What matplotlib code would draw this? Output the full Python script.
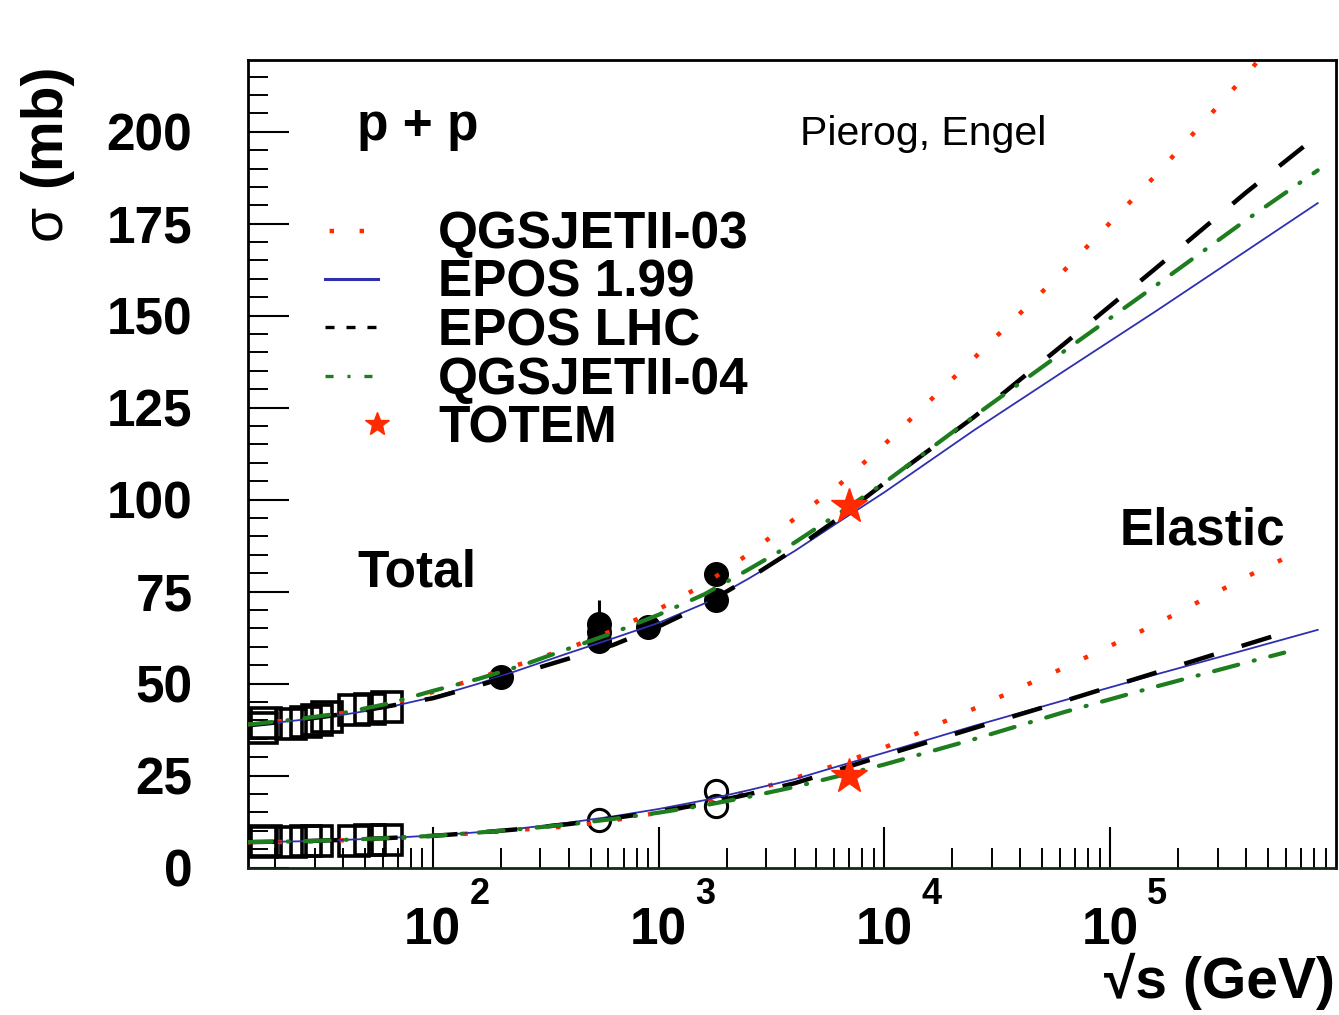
import numpy as np
import matplotlib
matplotlib.use("Agg")
import matplotlib.pyplot as plt
from matplotlib.lines import Line2D
from matplotlib.legend_handler import HandlerLine2D
from matplotlib.ticker import FixedLocator, FixedFormatter, LogLocator, NullFormatter, MultipleLocator

plt.rcParams['font.family'] = ['Liberation Sans', 'DejaVu Sans']
plt.rcParams['font.weight'] = 'bold'
plt.rcParams['lines.scale_dashes'] = False

# ---------------- model curves (sqrt(s) in GeV, sigma in mb) ----------------
sqrt_s_grid = [15, 25, 40, 63, 100, 160, 250, 400, 630, 1000, 1600, 2500, 4000,
               6300, 1.0e4, 2.5e4, 6.3e4, 1.6e5, 4.0e5, 8.3e5]
sqrt_s_grid_el = [15, 25, 40, 63, 100, 160, 250, 400, 630, 1000, 1600, 2500, 4000,
                  6300, 1.0e4, 2.5e4, 6.3e4, 1.6e5, 4.0e5, 5.9e5]

tot_qgsjet03 = [38.8, 40.3, 42.0, 44.3, 47.7, 51.5, 55.5, 59.6, 64.5, 70.2, 77.0, 85.2,
                94.8, 104.0, 115.0, 138.5, 162.5, 188.3, 215.5, 238.0]
tot_epos199 = [38.5, 40.0, 41.5, 43.5, 46.3, 50.0, 54.0, 58.3, 62.3, 66.5, 71.8, 78.5,
               86.0, 94.0, 102.0, 118.9, 135.1, 151.3, 167.6, 180.6]
tot_eposlhc = [38.6, 40.0, 41.7, 43.8, 46.0, 49.5, 53.0, 56.8, 60.5, 65.5, 71.5, 78.5,
               86.5, 95.0, 104.5, 122.5, 142.5, 163.0, 183.5, 199.0]
tot_qgsjet04 = [38.8, 40.3, 42.0, 44.5, 48.0, 51.3, 55.0, 59.5, 63.8, 68.7, 74.3, 81.0,
                88.3, 96.3, 104.6, 122.7, 140.5, 158.3, 176.0, 189.5]

el_qgsjet03 = [6.8, 7.0, 7.4, 7.9, 8.6, 9.4, 10.3, 11.2, 12.8, 14.9, 17.5, 20.6,
               24.3, 28.1, 32.6, 43.2, 54.4, 66.2, 79.0, 84.0]
el_epos199 = [6.9, 7.1, 7.5, 8.0, 8.7, 9.6, 10.7, 12.2, 13.9, 15.9, 18.3, 21.0,
              24.0, 27.6, 31.2, 38.5, 45.5, 52.5, 59.2, 64.6]
el_eposlhc = [6.9, 7.1, 7.5, 8.0, 8.6, 9.5, 10.5, 11.8, 13.4, 15.2, 17.3, 19.9,
              22.9, 26.6, 30.5, 37.9, 45.3, 53.0, 60.6, 63.8]
el_qgsjet04 = [6.9, 7.1, 7.5, 8.0, 8.6, 9.5, 10.5, 11.7, 13.2, 14.9, 16.9, 19.2,
               21.9, 24.9, 28.0, 34.9, 42.3, 49.2, 55.7, 58.4]

# ---------------- measurements ----------------
# low-energy (fixed target / ISR) data, open squares
tot_sq_sqrt_s = [17.6, 18.3, 23.5, 27.4, 30.6, 34.0, 44.7, 52.8, 62.5]
tot_sq_sigma = [37.8, 39.2, 39.1, 39.6, 40.2, 40.8, 42.7, 43.1, 43.5]
el_sq_sqrt_s = [17.6, 18.3, 23.5, 27.4, 30.6, 44.7, 52.8, 62.5]
el_sq_sigma = [7.0, 7.2, 6.9, 7.1, 7.3, 7.3, 7.4, 7.6]

# collider data: total (filled circles) and elastic (open circles)
tot_coll_sqrt_s = [200, 546, 546, 546, 900, 1800, 1800]
tot_coll_sigma = [51.8, 61.7, 64.0, 66.3, 65.3, 72.6, 79.8]
tot_coll_err = [1.2, 1.0, 1.0, 6.3, 1.5, 1.5, 2.2]
el_coll_sqrt_s = [546, 1800, 1800]
el_coll_sigma = [12.9, 16.8, 20.8]

# TOTEM at 7 TeV
totem_sqrt_s = [7000]
totem_total = [98.3]
totem_elastic = [24.8]

# axis ticks
y_major = [0, 25, 50, 75, 100, 125, 150, 175, 200]
x_major_exp = [2, 3, 4, 5]

RED = '#ff2a00'
BLUE = '#2f2fb0'
GREEN = '#1e7d1e'

fig = plt.figure(figsize=(13.39, 10.15), dpi=100)
ax = fig.add_axes([248 / 1339, 1 - 867.5 / 1015, 1088 / 1339, 807.5 / 1015])

ax.set_xscale('log')
ax.set_xlim(15.2, 1.0e6)
ax.set_ylim(0, 219.5)

# data points
ax.plot(tot_sq_sqrt_s, tot_sq_sigma, ls='none', marker='s', ms=21, mfc='none',
        mec='black', mew=2.6, zorder=3)
ax.plot(el_sq_sqrt_s, el_sq_sigma, ls='none', marker='s', ms=21, mfc='none',
        mec='black', mew=2.6, zorder=3)
ax.errorbar(tot_coll_sqrt_s, tot_coll_sigma, yerr=tot_coll_err, fmt='o', ms=17,
            color='black', ecolor='black', elinewidth=2.2, capsize=0, zorder=3)
ax.plot(el_coll_sqrt_s, el_coll_sigma, ls='none', marker='o', ms=16, mfc='none',
        mec='black', mew=2.2, zorder=3)

# model curves
style_q03 = dict(color=RED, lw=3.2, dashes=(3.2, 19.1), dash_capstyle='butt', zorder=4)
style_e199 = dict(color=BLUE, lw=1.3, ls='-', zorder=4)
style_elhc = dict(color='black', lw=3.2, dashes=(22.3, 20.9), dash_capstyle='butt', zorder=4)
style_q04 = dict(color=GREEN, lw=3.0, dashes=(18.0, 11.5, 0.8, 11.5), dash_capstyle='round',
                 zorder=4)

ax.plot(sqrt_s_grid, tot_qgsjet03, **style_q03)
ax.plot(sqrt_s_grid, tot_epos199, **style_e199)
ax.plot(sqrt_s_grid, tot_eposlhc, **style_elhc)
ax.plot(sqrt_s_grid, tot_qgsjet04, **style_q04)

ax.plot(sqrt_s_grid_el, el_qgsjet03, **style_q03)
ax.plot(sqrt_s_grid, el_epos199, **style_e199)
ax.plot(sqrt_s_grid_el, el_eposlhc, **style_elhc)
ax.plot(sqrt_s_grid_el, el_qgsjet04, **style_q04)

ax.plot(totem_sqrt_s, totem_total, ls='none', marker='*', ms=26.5, color=RED, mec=RED, zorder=6)
ax.plot(totem_sqrt_s, totem_elastic, ls='none', marker='*', ms=26.5, color=RED, mec=RED, zorder=6)

# axes styling
for side in ('left', 'top', 'right'):
    ax.spines[side].set_linewidth(2.0)
    ax.spines[side].set_color('black')
ax.spines['bottom'].set_linewidth(2.0)
ax.spines['bottom'].set_color('#142814')

ax.yaxis.set_major_locator(FixedLocator(y_major))
ax.yaxis.set_major_formatter(FixedFormatter([str(v) for v in y_major]))
ax.yaxis.set_minor_locator(MultipleLocator(5))

x_major = [10.0 ** k for k in x_major_exp]
ax.xaxis.set_major_locator(FixedLocator(x_major))
ax.xaxis.set_major_formatter(FixedFormatter(['10'] * len(x_major)))
ax.xaxis.set_minor_locator(LogLocator(base=10, subs=np.arange(2, 10), numticks=20))
ax.xaxis.set_minor_formatter(NullFormatter())

ax.tick_params(which='major', direction='in', length=29.5, width=1.5,
               top=False, right=False, labelsize=37)
ax.tick_params(which='minor', direction='in', length=14.5, width=1.4,
               top=False, right=False)
ax.tick_params(axis='y', which='major', pad=40)
ax.tick_params(axis='x', which='major', pad=28)

for k, xv in zip(x_major_exp, x_major):
    ax.annotate(str(k), xy=(xv, 0), xycoords=('data', 'axes fraction'),
                xytext=(26.6, -26.3), textcoords='offset points',
                ha='left', va='baseline', fontsize=26, fontweight='bold',
                annotation_clip=False)

# axis titles
fig.text(1335 / 1339, 1 - 998 / 1015, '\u221as (GeV)', ha='right', va='baseline',
         fontsize=41, fontweight='bold')
fig.text(60 / 1339, 1 - 240 / 1015, '\u03c3', rotation=90, rotation_mode='anchor',
         ha='left', va='baseline', fontsize=41, fontweight='normal')
fig.text(60 / 1339, 1 - 187 / 1015, '(mb)', rotation=90, rotation_mode='anchor',
         ha='left', va='baseline', fontsize=41, fontweight='bold')

# annotations
ax.text(0.1002, 0.9009, 'p + p', transform=ax.transAxes, ha='left', va='baseline',
        fontsize=37, fontweight='bold')
ax.text(0.5074, 0.8947, 'Pierog, Engel', transform=ax.transAxes, ha='left',
        va='baseline', fontsize=29.5, fontweight='normal')
ax.text(0.1002, 0.3474, 'Total', transform=ax.transAxes, ha='left', va='baseline',
        fontsize=37, fontweight='bold')
ax.text(0.8015, 0.3994, 'Elastic', transform=ax.transAxes, ha='left', va='baseline',
        fontsize=37, fontweight='bold')


class EndMarkerHandler(HandlerLine2D):
    """Place the marker at the right end of the legend key."""
    def create_artists(self, legend, orig_handle, xdescent, ydescent, width,
                       height, fontsize, trans):
        artists = super().create_artists(legend, orig_handle, xdescent, ydescent,
                                         width, height, fontsize, trans)
        for art in artists:
            xd = np.asarray(art.get_xdata(), dtype=float)
            art.set_xdata(np.full_like(xd, width - xdescent - 1.0))
        return artists


h_q03 = Line2D([], [], color=RED, lw=3.2, linestyle=(18.3, (3.2, 18.4)), dash_capstyle='butt')
h_e199 = Line2D([], [], color=BLUE, lw=2.2, ls='-')
h_elhc = Line2D([], [], color='black', lw=2.4, linestyle=(0, (6.5, 8.6)), dash_capstyle='butt')
h_q04 = Line2D([], [], color=GREEN, lw=2.4, linestyle=(0, (5.8, 10.0, 2.2, 10.0)), dash_capstyle='butt')
h_totem = Line2D([], [], ls='none', marker='*', ms=18, color=RED, mec=RED)

leg = ax.legend([h_q03, h_e199, h_elhc, h_q04, h_totem],
                ['QGSJETII-03', 'EPOS 1.99', 'EPOS LHC', 'QGSJETII-04', 'TOTEM'],
                loc='upper left', bbox_to_anchor=(325 / 1339, 1 - 210.5 / 1015),
                bbox_transform=fig.transFigure, frameon=False, borderpad=0,
                borderaxespad=0, handlelength=1.03, handleheight=0.7,
                handletextpad=1.17, labelspacing=-0.012, numpoints=1,
                prop={'size': 37, 'weight': 'bold'},
                handler_map={h_totem: EndMarkerHandler(numpoints=1)})

fig.savefig('out.png', dpi=100)
